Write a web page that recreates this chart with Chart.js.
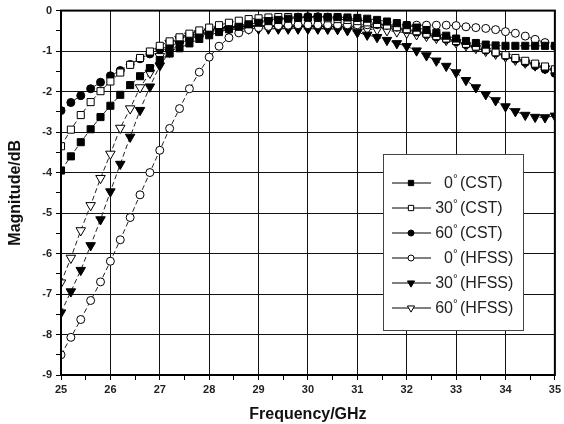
<!DOCTYPE html>
<html>
<head>
<meta charset="utf-8">
<script src="https://cdn.jsdelivr.net/npm/chart.js@4"></script>
<style>
  body { margin: 0; background: #fff; }
  #chart { display: block; }
</style>
</head>
<body>
<canvas id="chart" width="564" height="424"></canvas>
<script>
// frequency points, GHz
const freqs = [25.0, 25.2, 25.4, 25.6, 25.8, 26.0, 26.2, 26.4, 26.6, 26.8,
               27.0, 27.2, 27.4, 27.6, 27.8, 28.0, 28.2, 28.4, 28.6, 28.8,
               29.0, 29.2, 29.4, 29.6, 29.8, 30.0, 30.2, 30.4, 30.6, 30.8,
               31.0, 31.2, 31.4, 31.6, 31.8, 32.0, 32.2, 32.4, 32.6, 32.8,
               33.0, 33.2, 33.4, 33.6, 33.8, 34.0, 34.2, 34.4, 34.6, 34.8, 35.0];

// magnitude in dB
const cst0 = [-3.95, -3.60, -3.25, -2.93, -2.63, -2.35, -2.08, -1.84, -1.62, -1.42,
              -1.22, -1.06, -0.93, -0.81, -0.70, -0.61, -0.53, -0.46, -0.40, -0.34,
              -0.30, -0.26, -0.23, -0.20, -0.18, -0.17, -0.16, -0.16, -0.16, -0.17,
              -0.18, -0.20, -0.23, -0.27, -0.31, -0.36, -0.42, -0.48, -0.55, -0.62,
              -0.69, -0.75, -0.80, -0.84, -0.86, -0.87, -0.87, -0.87, -0.87, -0.87, -0.87];
const cst30 = [-3.35, -2.94, -2.58, -2.26, -1.99, -1.75, -1.53, -1.34, -1.17, -1.01,
               -0.87, -0.76, -0.66, -0.57, -0.49, -0.42, -0.36, -0.30, -0.25, -0.21,
               -0.19, -0.17, -0.16, -0.16, -0.16, -0.17, -0.18, -0.19, -0.21, -0.23,
               -0.26, -0.29, -0.33, -0.37, -0.41, -0.46, -0.51, -0.57, -0.63, -0.69,
               -0.75, -0.82, -0.89, -0.96, -1.03, -1.10, -1.17, -1.24, -1.31, -1.38, -1.45];
const cst60 = [-2.47, -2.27, -2.10, -1.93, -1.77, -1.61, -1.48, -1.33, -1.19, -1.07,
               -0.96, -0.87, -0.79, -0.71, -0.63, -0.56, -0.49, -0.43, -0.37, -0.32,
               -0.27, -0.23, -0.20, -0.18, -0.16, -0.15, -0.15, -0.16, -0.17, -0.19,
               -0.22, -0.26, -0.31, -0.36, -0.41, -0.47, -0.53, -0.59, -0.65, -0.71,
               -0.77, -0.84, -0.91, -0.98, -1.05, -1.12, -1.20, -1.28, -1.36, -1.45, -1.55];
const hfss0 = [-8.50, -8.07, -7.63, -7.16, -6.70, -6.19, -5.66, -5.11, -4.55, -4.00,
               -3.45, -2.91, -2.42, -1.93, -1.52, -1.15, -0.88, -0.67, -0.55, -0.47,
               -0.42, -0.39, -0.37, -0.36, -0.35, -0.35, -0.35, -0.35, -0.35, -0.35,
               -0.35, -0.35, -0.35, -0.35, -0.35, -0.36, -0.36, -0.36, -0.36, -0.36,
               -0.37, -0.40, -0.42, -0.44, -0.47, -0.52, -0.56, -0.63, -0.71, -0.79, -0.88];
const hfss30 = [-7.46, -6.94, -6.41, -5.80, -5.16, -4.47, -3.79, -3.12, -2.46, -1.88,
                -1.36, -1.02, -0.82, -0.68, -0.59, -0.53, -0.49, -0.46, -0.45, -0.44,
                -0.44, -0.44, -0.44, -0.44, -0.44, -0.44, -0.44, -0.45, -0.46, -0.49,
                -0.54, -0.60, -0.66, -0.73, -0.81, -0.88, -0.99, -1.11, -1.24, -1.37,
                -1.53, -1.72, -1.90, -2.07, -2.22, -2.37, -2.49, -2.58, -2.63, -2.64, -2.60];
const hfss60 = [-6.72, -6.11, -5.43, -4.81, -4.14, -3.54, -2.90, -2.42, -1.90, -1.54,
                -1.13, -0.80, -0.70, -0.62, -0.56, -0.52, -0.49, -0.47, -0.46, -0.45,
                -0.45, -0.45, -0.45, -0.45, -0.45, -0.45, -0.45, -0.45, -0.45, -0.45,
                -0.45, -0.46, -0.47, -0.49, -0.52, -0.55, -0.59, -0.63, -0.68, -0.73,
                -0.79, -0.86, -0.93, -1.00, -1.07, -1.14, -1.22, -1.29, -1.36, -1.43, -1.50];

const seriesNames = ['0', '30', '60', '0', '30', '60'];
const seriesTools = ['(CST)', '(CST)', '(CST)', '(HFSS)', '(HFSS)', '(HFSS)'];

// marker look per series
const markers = [
    { style: 'rect', radius: 5, rot: 0, fill: '#000' },
    { style: 'rect', radius: 5, rot: 0, fill: '#fff' },
    { style: 'circle', radius: 4, rot: 0, fill: '#000' },
    { style: 'circle', radius: 4, rot: 0, fill: '#fff' },
    { style: 'triangle', radius: 5.5, rot: 180, fill: '#000' },
    { style: 'triangle', radius: 5.5, rot: 180, fill: '#fff' }
];

const allSeries = [cst0, cst30, cst60, hfss0, hfss30, hfss60];

const datasets = allSeries.map((vals, i) => ({
    label: seriesNames[i] + '°' + seriesTools[i],
    data: freqs.map((f, j) => ({ x: f, y: vals[j] })),
    borderColor: '#222',
    borderWidth: 1,
    borderDash: [5, 3],
    tension: 0,
    pointStyle: markers[i].style,
    pointRotation: markers[i].rot,
    pointRadius: markers[i].radius,
    pointBackgroundColor: markers[i].fill,
    pointBorderColor: '#000',
    pointBorderWidth: 1
}));

// frame round the plot + the boxed legend
const framePlugin = {
    id: 'frame',
    afterDraw(chart) {
        const ctx = chart.ctx;
        const a = chart.chartArea;
        ctx.save();
        ctx.strokeStyle = '#000';
        ctx.lineWidth = 2;
        ctx.strokeRect(a.left, a.top, a.right - a.left, a.bottom - a.top);

        // legend box
        ctx.fillStyle = '#fff';
        ctx.fillRect(383, 154, 140, 176);
        ctx.strokeStyle = '#444';
        ctx.lineWidth = 1;
        ctx.strokeRect(383.5, 154.5, 140, 176);

        for (let i = 0; i < 6; i++) {
            const y = 183 + i * 25;
            ctx.strokeStyle = '#000';
            ctx.lineWidth = 1;
            ctx.setLineDash([]);
            ctx.beginPath();
            ctx.moveTo(392, y);
            ctx.lineTo(431, y);
            ctx.stroke();

            ctx.fillStyle = markers[i].fill;
            ctx.strokeStyle = '#000';
            if (Chart.helpers && Chart.helpers.drawPoint) {
                Chart.helpers.drawPoint(ctx, {
                    pointStyle: markers[i].style,
                    rotation: markers[i].rot,
                    radius: markers[i].radius * 0.75,
                    borderWidth: 1
                }, 411, y);
            }

            ctx.fillStyle = '#222';
            ctx.textBaseline = 'middle';
            ctx.font = '16px "Liberation Sans", Arial, sans-serif';
            ctx.textAlign = 'right';
            ctx.fillText(seriesNames[i], 453, y + 1);
            ctx.textAlign = 'left';
            ctx.fillText(seriesTools[i], 460, y + 1);
            ctx.font = '12px "Liberation Sans", Arial, sans-serif';
            ctx.fillText('°', 453, y - 3);
        }
        ctx.restore();
    }
};

const tickFont = { family: '"Liberation Sans", Arial, sans-serif', size: 11, weight: 'bold' };
const titleFont = { family: '"Liberation Sans", Arial, sans-serif', size: 16, weight: 'bold' };

const ctx1 = document.getElementById('chart').getContext('2d');
const magChart = new Chart(ctx1, {
    type: 'line',
    data: { datasets: datasets },
    options: {
        responsive: false,
        animation: false,
        layout: { padding: { left: 0, top: 7, right: 9, bottom: 0 } },
        plugins: {
            legend: { display: false },
            tooltip: { enabled: false }
        },
        scales: {
            x: {
                type: 'linear',
                min: 25,
                max: 35,
                afterFit: scale => { scale.height = 49; },
                ticks: {
                    stepSize: 0.5,
                    autoSkip: false,
                    maxRotation: 0,
                    padding: 3,
                    color: '#222',
                    font: tickFont,
                    callback: v => Number.isInteger(v) ? v : ''
                },
                grid: {
                    color: c => (c.tick && Number.isInteger(c.tick.value)) ? '#111' : 'rgba(0,0,0,0)',
                    tickColor: '#000',
                    tickLength: 5,
                    lineWidth: 1
                },
                border: { color: '#000', width: 2 },
                title: {
                    display: true,
                    text: 'Frequency/GHz',
                    color: '#111',
                    font: titleFont,
                    padding: { top: 0, bottom: 0 }
                }
            },
            y: {
                min: -9,
                max: 0,
                afterFit: scale => { scale.width = 61; },
                ticks: {
                    stepSize: 0.5,
                    autoSkip: false,
                    padding: 4,
                    color: '#222',
                    font: tickFont,
                    callback: v => Number.isInteger(v) ? v : ''
                },
                grid: {
                    color: c => (c.tick && Number.isInteger(c.tick.value)) ? '#111' : 'rgba(0,0,0,0)',
                    tickColor: '#000',
                    tickLength: 5,
                    lineWidth: 1
                },
                border: { color: '#000', width: 2 },
                title: {
                    display: true,
                    text: 'Magnitude/dB',
                    color: '#111',
                    font: titleFont,
                    padding: { top: 6, bottom: 0 }
                }
            }
        }
    },
    plugins: [framePlugin]
});
</script>
</body>
</html>
